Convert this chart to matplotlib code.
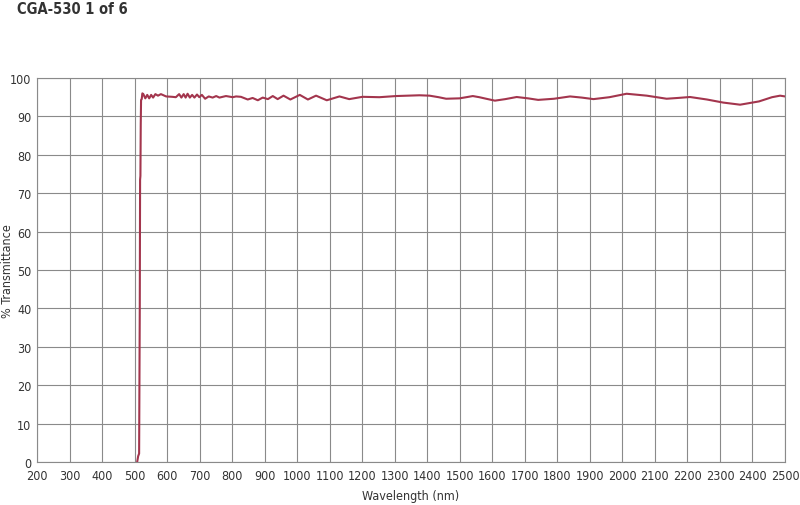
import matplotlib
matplotlib.use("Agg")
import matplotlib.pyplot as plt
from matplotlib import font_manager

names = {f.name for f in font_manager.fontManager.ttflist}
cond = [f for f in font_manager.fontManager.ttflist if f.name == "DejaVu Sans" and f.stretch == "condensed"]
if "Liberation Sans Narrow" in names:
    FAM = ["Liberation Sans Narrow", "DejaVu Sans"]
    STRETCH = "normal"
else:
    FAM = ["DejaVu Sans"]
    STRETCH = "condensed" if cond else "normal"
plt.rcParams['font.family'] = FAM
plt.rcParams['font.stretch'] = STRETCH

title = "CGA-530 1 of 6"
x_label = "Wavelength (nm)"
y_label = "% Transmittance"
x_ticks = list(range(200, 2501, 100))
y_ticks = list(range(0, 101, 10))

wavelength = [508, 511, 514, 516, 517, 518, 519, 520, 522, 524, 527, 533, 539, 545, 551, 557,
              564, 572, 581, 597, 616, 627, 637, 644, 651, 657, 663, 670, 677, 684, 692, 699,
              707, 717, 728, 740, 751, 761, 781, 802, 812, 827, 848, 863, 879, 894, 910, 925,
              940, 958, 979, 1008, 1033, 1058, 1091, 1130, 1160, 1201, 1253, 1304, 1376, 1407,
              1435, 1458, 1499, 1520, 1540, 1560, 1581, 1608, 1640, 1675, 1710, 1741, 1790, 1839,
              1875, 1911, 1960, 2013, 2075, 2136, 2170, 2208, 2260, 2310, 2362, 2420, 2460, 2485, 2500]
transmittance = [0.0, 1.5, 2.2, 40.0, 73.5, 74.5, 88.0, 94.3, 94.5, 96.0, 95.8, 94.7, 95.6, 94.7, 95.6, 94.9,
                 95.8, 95.4, 95.8, 95.2, 95.1, 95.0, 95.8, 94.9, 95.8, 94.9, 95.9, 94.9, 95.6, 94.9, 95.7, 95.0,
                 95.6, 94.6, 95.2, 94.9, 95.3, 94.9, 95.3, 95.0, 95.2, 95.1, 94.4, 94.8, 94.2, 94.9, 94.5, 95.3,
                 94.5, 95.4, 94.4, 95.6, 94.4, 95.4, 94.2, 95.2, 94.5, 95.1, 95.0, 95.3, 95.5, 95.4,
                 95.0, 94.6, 94.7, 95.0, 95.3, 95.0, 94.6, 94.1, 94.5, 95.05, 94.7, 94.3, 94.6, 95.2,
                 94.9, 94.5, 95.0, 95.9, 95.4, 94.6, 94.8, 95.05, 94.4, 93.6, 93.05, 93.9, 95.0, 95.4, 95.2]

fig = plt.figure(figsize=(8.0, 5.06), dpi=100)
ax = fig.add_axes([37/800, 1-463/506, (785-37)/800, (463-79)/506])

grid_c = "#8a8a8a"
ax.plot(wavelength, transmittance, color="#a3354d", lw=1.5, zorder=3, solid_joinstyle="round")
ax.set_xlim(200, 2500)
ax.set_ylim(0, 100)
ax.set_xticks(x_ticks)
ax.set_yticks(y_ticks)
ax.grid(True, color=grid_c, lw=0.8)
for s in ax.spines.values():
    s.set_color(grid_c)
    s.set_linewidth(0.8)
ax.tick_params(length=0, labelsize=9, colors="#333333", pad=4)
ax.tick_params(axis='x', pad=5)
ax.set_xlabel(x_label, fontsize=9, color="#333333")
ax.xaxis.set_label_coords(0.5, -(497 - 463) / 384, transform=ax.transAxes)
ax.xaxis.label.set_va("center")
ax.set_ylabel(y_label, fontsize=9, color="#333333")
ax.yaxis.set_label_coords(-(37 - 8) / 748, 0.5)
ax.yaxis.label.set_va("center")
fig.text(17/800, 1-9/506, title, fontsize=10.5, fontweight="bold", color="#333333", va="center", ha="left")

fig.savefig("out.png", dpi=100)
